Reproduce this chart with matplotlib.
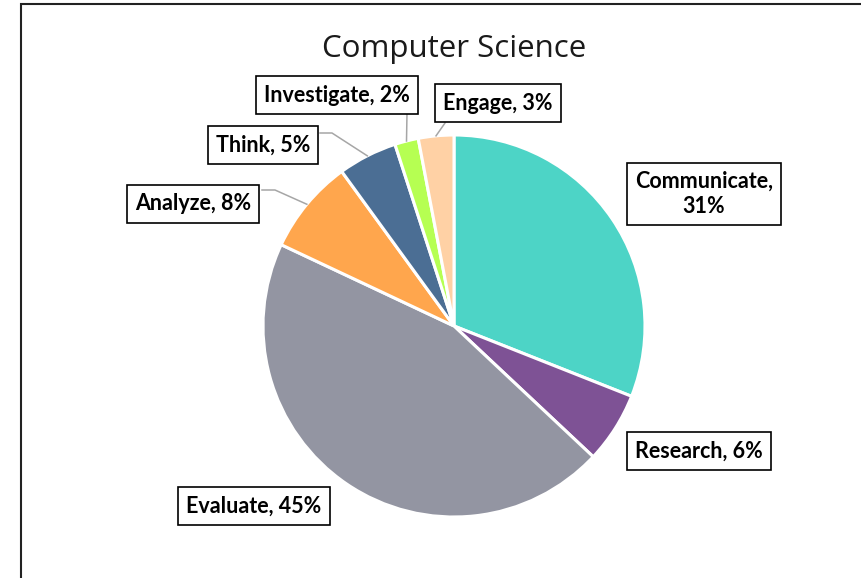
import matplotlib
matplotlib.use('Agg')
import numpy as np
import matplotlib.pyplot as plt
from matplotlib.patches import Rectangle

# ─── data ─────────────────────────────────────────────────────────────────────
labels = ['Communicate', 'Research', 'Evaluate', 'Analyze', 'Think', 'Investigate', 'Engage']
shares = [31, 6, 45, 8, 5, 2, 3]
colors = ['#4DD4C6', '#7E5295', '#9395A2', '#FFA64D', '#4B6E94', '#B6FF52', '#FFD1A5']
title = 'Computer Science'

# ─── layout (pixel coordinates, y measured from top) ─────────────────────────
W, H = 862, 578
CX, CY, RAD = 454, 326, 191
box_pos = {
    'Communicate': (704, 194),
    'Research':    (699, 451),
    'Evaluate':    (254, 506),
    'Analyze':     (193, 204),
    'Think':       (263, 145),
    'Investigate': (337, 95),
    'Engage':      (498, 103),
}
# leader lines: start point on the label box, optional elbow
leaders = {
    'Analyze':     [(262, 190), (275, 190)],
    'Think':       [(320, 133), (332, 133)],
    'Investigate': [(407, 113)],
    'Engage':      [(445, 123)],
}

plt.rcParams['font.family'] = ['Lato', 'DejaVu Sans']

fig = plt.figure(figsize=(W / 100, H / 100), dpi=100)
ax = fig.add_axes([0, 0, 1, 1])
ax.set_xlim(0, W)
ax.set_ylim(0, H)
ax.set_aspect('equal')
ax.axis('off')

def fy(y):
    return H - y

# chart frame
ax.add_patch(Rectangle((21, fy(H + 20)), W + 20, H + 16, fill=False,
                       edgecolor='#222222', linewidth=1.5, zorder=0))

ax.pie(shares, colors=colors, startangle=90, counterclock=False,
       center=(CX, fy(CY)), radius=RAD,
       wedgeprops=dict(edgecolor='white', linewidth=2.2))
ax.set_xlim(0, W)
ax.set_ylim(0, H)

ax.text(CX, fy(49), title, ha='center', va='center', fontsize=22.5,
        family=['Open Sans', 'DejaVu Sans'], color='#1a1a1a')

# wedge mid angles (clockwise from top)
total = float(sum(shares))
cum = np.cumsum([0] + shares)
mids = {lab: (cum[i] + shares[i] / 2) / total * 360 for i, lab in enumerate(labels)}

for lab, val in zip(labels, shares):
    x, y = box_pos[lab]
    txt = f'{lab},\n{val}%' if lab == 'Communicate' else f'{lab}, {val}%'
    ax.text(x, fy(y), txt, ha='center', va='center', fontsize=15.5,
            fontweight='bold', color='black', linespacing=1.25,
            bbox=dict(boxstyle='square,pad=0.38', facecolor='white',
                      edgecolor='black', linewidth=1.2))
    if lab in leaders:
        th = np.deg2rad(mids[lab])
        ex = CX + RAD * np.sin(th)
        ey = CY - RAD * np.cos(th)
        pts = leaders[lab] + [(ex, ey)]
        ax.plot([p[0] for p in pts], [fy(p[1]) for p in pts],
                color='#A6A6A6', linewidth=1.1, zorder=1)

fig.savefig('out.png', dpi=100, facecolor='white')
